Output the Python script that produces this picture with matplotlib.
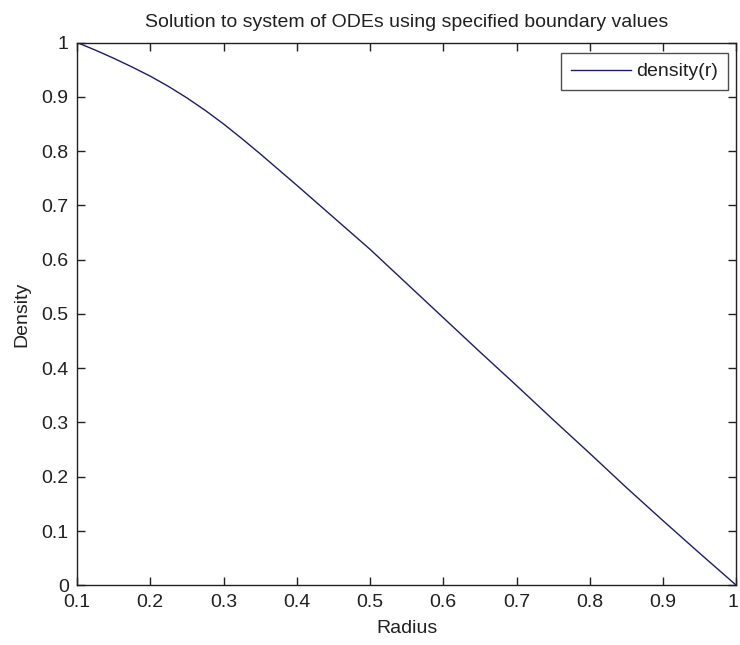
import matplotlib
matplotlib.use("Agg")
import matplotlib.pyplot as plt
import matplotlib.transforms as mtransforms
from matplotlib import font_manager

radius = [0.100, 0.125, 0.150, 0.175, 0.200, 0.225, 0.250, 0.275, 0.300, 0.325,
          0.350, 0.375, 0.400, 0.45, 0.50, 0.55,
          0.60, 0.65, 0.70, 0.75, 0.80, 0.85, 0.90, 0.95, 1.00]
density = [1.000, 0.986, 0.971, 0.955, 0.938, 0.919, 0.898, 0.875, 0.850, 0.823,
           0.795, 0.766, 0.737, 0.678, 0.619, 0.556,
           0.493, 0.430, 0.368, 0.305, 0.243, 0.180, 0.119, 0.059, 0.000]
xticks = [0.1, 0.2, 0.3, 0.4, 0.5, 0.6, 0.7, 0.8, 0.9, 1.0]
xticklabels = ["0.1", "0.2", "0.3", "0.4", "0.5", "0.6", "0.7", "0.8", "0.9", "1"]
yticks = [0.0, 0.1, 0.2, 0.3, 0.4, 0.5, 0.6, 0.7, 0.8, 0.9, 1.0]
yticklabels = ["0", "0.1", "0.2", "0.3", "0.4", "0.5", "0.6", "0.7", "0.8", "0.9", "1"]

names = {f.name for f in font_manager.fontManager.ttflist}
fam = ["Liberation Sans Narrow"] if "Liberation Sans Narrow" in names else ["Liberation Sans"]
plt.rcParams["font.family"] = fam + ["DejaVu Sans"]

fig = plt.figure(figsize=(7.4, 6.45), dpi=100, facecolor="white")
ax = fig.add_axes([77/740, 1 - 585.3/645, (736.3 - 77)/740, (585.3 - 42.5)/645])

ax.plot(radius, density, color="#1c1c6a", lw=1.0, label="density(r)")
ax.set_xlim(0.1, 1.0)
ax.set_ylim(0.0, 1.0)
ax.set_xticks(xticks)
ax.set_xticklabels(xticklabels)
ax.set_yticks(yticks)
ax.set_yticklabels(yticklabels)
ax.tick_params(direction="in", length=6, width=1, top=True, right=True,
               labelsize=14, colors="#202020", pad=6)
for s in ax.spines.values():
    s.set_linewidth(1.0)
    s.set_color("#202020")

# keep the last x tick label inside the figure edge
last = ax.get_xticklabels()[-1]
last.set_horizontalalignment("right")
last.set_transform(last.get_transform() +
                   mtransforms.ScaledTranslation(2/100, 0, fig.dpi_scale_trans))

ax.set_title("Solution to system of ODEs using specified boundary values",
             fontsize=14, color="#202020", pad=11)
ax.set_xlabel("Radius", fontsize=14, color="#202020", labelpad=7)
ax.set_ylabel("Density", fontsize=14, color="#202020", labelpad=8)

leg = ax.legend(loc="upper right", bbox_to_anchor=(0.9874, 0.9807), fontsize=14,
                frameon=True, fancybox=False, edgecolor="#202020",
                handlelength=3.1, borderaxespad=0.0, borderpad=0.5,
                handletextpad=0.28)
leg.get_frame().set_linewidth(1.0)
for t in leg.get_texts():
    t.set_color("#202020")

fig.savefig("out.png", dpi=100, facecolor="white")
